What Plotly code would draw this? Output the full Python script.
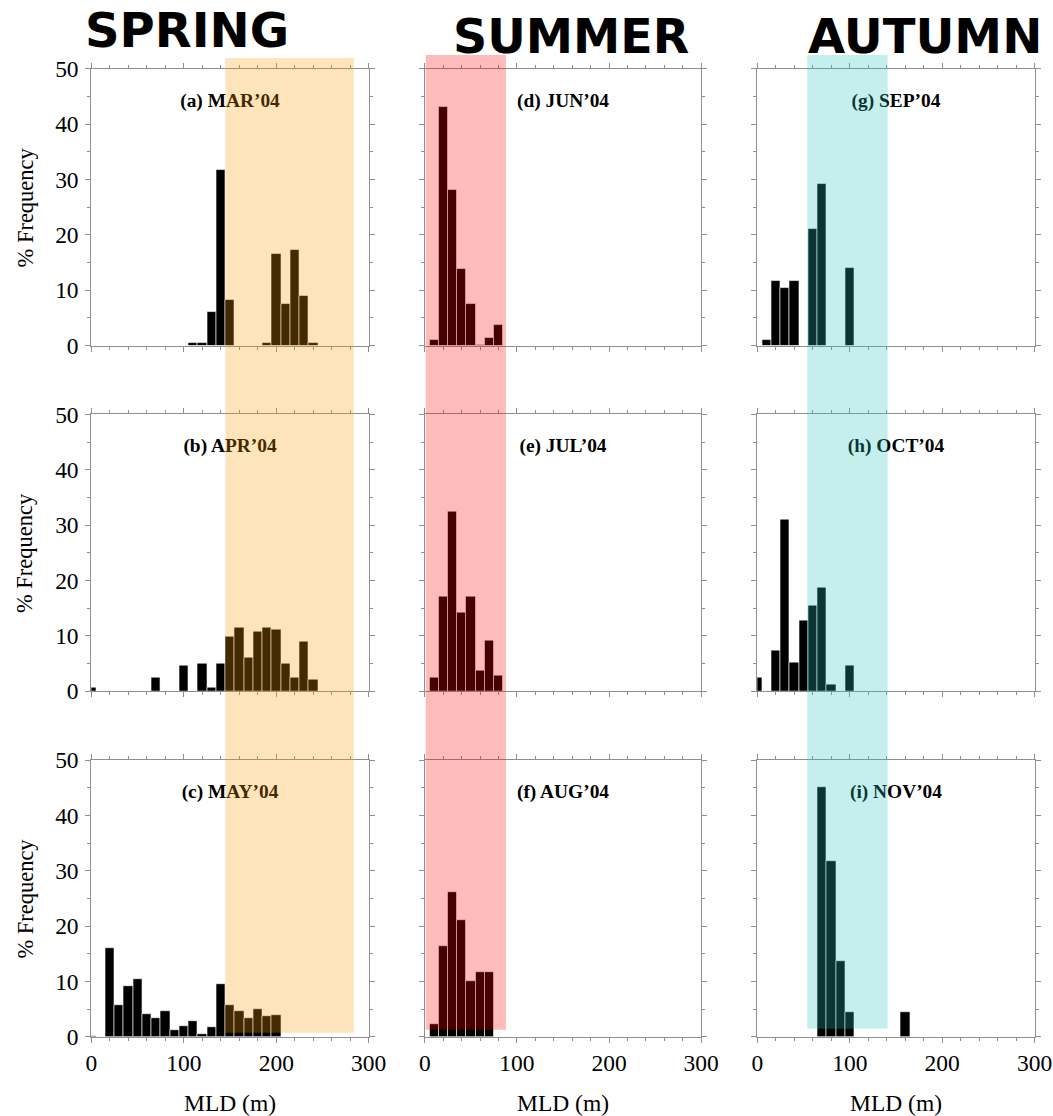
import plotly.graph_objects as go

# ---- data: bin centres (MLD, m) and % frequency per month ----
mar_mld = [110, 120, 130, 140, 150, 190, 200, 210, 220, 230, 240]
mar_freq = [0.5, 0.5, 6.1, 31.8, 8.2, 0.5, 16.5, 7.5, 17.2, 8.9, 0.5]
apr_mld = [0, 70, 100, 120, 130, 140, 150, 160, 170, 180, 190, 200, 210, 220, 230, 240]
apr_freq = [0.7, 2.5, 4.6, 5.0, 0.7, 5.0, 9.8, 11.5, 6.0, 10.7, 11.5, 11.2, 5.0, 2.4, 9.0, 2.1]
may_mld = [0, 20, 30, 40, 50, 60, 70, 80, 90, 100, 110, 120, 130, 140, 150, 160, 170, 180, 190, 200]
may_freq = [0.15, 16.1, 5.7, 9.2, 10.5, 4.1, 3.3, 4.6, 1.2, 2.0, 2.8, 0.4, 1.7, 9.5, 5.7, 4.6, 3.3, 5.0, 3.7, 3.9]
jun_mld = [10, 20, 30, 40, 50, 60, 70, 80]
jun_freq = [1.0, 43.1, 28.2, 13.8, 7.5, 0.1, 1.4, 3.7]
jul_mld = [10, 20, 30, 40, 50, 60, 70, 80]
jul_freq = [2.4, 17.1, 32.4, 14.2, 17.1, 3.8, 9.2, 2.8]
aug_mld = [10, 20, 30, 40, 50, 60, 70]
aug_freq = [2.3, 16.3, 26.1, 21.0, 10.1, 11.7, 11.7]
sep_mld = [10, 20, 30, 40, 60, 70, 100]
sep_freq = [1.1, 11.7, 10.5, 11.7, 21.0, 29.3, 14.0]
oct_mld = [0, 20, 30, 40, 50, 60, 70, 80, 100]
oct_freq = [2.5, 7.3, 31.0, 5.2, 12.7, 15.4, 18.8, 1.2, 4.6]
nov_mld = [70, 80, 90, 100, 160]
nov_freq = [45.2, 31.7, 13.6, 4.5, 4.5]

panel_labels = ["(a) MAR’04", "(b) APR’04", "(c) MAY’04",
                "(d) JUN’04", "(e) JUL’04", "(f) AUG’04",
                "(g) SEP’04", "(h) OCT’04", "(i) NOV’04"]
season_names = ["SPRING", "SUMMER", "AUTUMN"]
season_bands = [(145, 284), (1, 88), (54, 141)]
season_colors = ["rgba(248,155,0,0.27)", "rgba(255,0,0,0.27)", "rgba(40,196,188,0.27)"]

bin_width = 10
label_x = 150
label_y = 44

panels = [
    (mar_mld, mar_freq), (apr_mld, apr_freq), (may_mld, may_freq),
    (jun_mld, jun_freq), (jul_mld, jul_freq), (aug_mld, aug_freq),
    (sep_mld, sep_freq), (oct_mld, oct_freq), (nov_mld, nov_freq),
]

# page geometry: default body margin around the figure, and the capture
# is scaled slightly; positions below are given in target-picture pixels.
OFF = 8
SX, SY = 0.976, 0.982
W = round(1053 / SX) - 2 * OFF
H = round(1116 / SY) - 2 * OFF
FS = 2 / (SX + SY)
KY = 1.0041  # small vertical stretch correction anchored at the bottom axes


def px(v):
    return (v / SX - OFF) / W


def py(v):
    v2 = 1037 - (1037 - v) * KY
    return 1 - (v2 / SY - OFF) / H


col_px = [(93, 370), (426, 702), (758, 1035)]
row_px = [(68, 345), (414, 691), (760, 1037)]

fig = go.Figure()
layout = dict(
    width=W, height=H,
    margin=dict(l=0, r=0, t=0, b=0),
    paper_bgcolor="white", plot_bgcolor="white",
    showlegend=False, hovermode=False,
    font=dict(family="Liberation Serif", color="black"),
    bargap=0,
)

SERIF = "Liberation Serif"
axcol = "#8f8f8f"

for c in range(3):
    for r in range(3):
        k = c * 3 + r
        idx = r * 3 + c + 1
        xname = "xaxis" if idx == 1 else f"xaxis{idx}"
        yname = "yaxis" if idx == 1 else f"yaxis{idx}"
        xid = "x" if idx == 1 else f"x{idx}"
        yid = "y" if idx == 1 else f"y{idx}"
        x0p, x1p = col_px[c]
        y0p, y1p = row_px[r]
        layout[xname] = dict(
            domain=[px(x0p), px(x1p)], anchor=yid,
            range=[0, 300], dtick=100, tick0=0,
            showline=True, linecolor=axcol, linewidth=1, mirror="ticks",
            ticks="outside", ticklen=5, tickcolor=axcol, tickwidth=1,
            minor=dict(dtick=20, ticks="outside", ticklen=3, tickcolor=axcol, tickwidth=1),
            showgrid=False, zeroline=False,
            showticklabels=(r == 2), ticklabelstandoff=0,
            tickfont=dict(family=SERIF, size=23 * FS, color="black"),
            fixedrange=True,
        )
        layout[yname] = dict(
            domain=[py(y1p), py(y0p)], anchor=xid,
            range=[0, 50], dtick=10, tick0=0,
            showline=True, linecolor=axcol, linewidth=1, mirror="ticks",
            ticks="outside", ticklen=5, tickcolor=axcol, tickwidth=1,
            minor=dict(dtick=5, ticks="outside", ticklen=3, tickcolor=axcol, tickwidth=1),
            showgrid=False, zeroline=False,
            showticklabels=(c == 0), ticklabelstandoff=2,
            tickfont=dict(family=SERIF, size=23 * FS, color="black"),
            fixedrange=True,
        )
        xs, ys = panels[k]
        fig.add_trace(go.Bar(
            x=xs, y=ys, width=bin_width, xaxis=xid, yaxis=yid,
            marker=dict(color="black", line=dict(color="white", width=0.6)),
        ))
        fig.add_trace(go.Scatter(
            x=[label_x], y=[label_y], xaxis=xid, yaxis=yid,
            mode="text", text=[f"<b>{panel_labels[k]}</b>"],
            textposition="middle center",
            textfont=dict(family=SERIF, size=19 * FS, color="black"),
        ))

shapes = []
band_y = [(57, 1033), (54, 1030), (54, 1029)]
for c in range(3):
    xid = "x" if c == 0 else f"x{c + 1}"
    b0, b1 = season_bands[c]
    t, btm = band_y[c]
    shapes.append(dict(
        type="rect", xref=xid, yref="paper",
        x0=b0, x1=b1, y0=py(btm), y1=py(t),
        fillcolor=season_colors[c], line=dict(width=0), layer="above",
    ))
layout["shapes"] = shapes

annotations = []
title_pos = [(189, 29.5), (572, 35.3), (925, 35.3)]
title_size = [47, 46.5, 47]
for c in range(3):
    tx, ty = title_pos[c]
    annotations.append(dict(
        text=f"<b>{season_names[c]}</b>", xref="paper", yref="paper",
        x=px(tx), y=py(ty), xanchor="center", yanchor="middle",
        showarrow=False,
        font=dict(family="DejaVu Sans", size=title_size[c] * FS, color="black"),
    ))
for r in range(3):
    y0p, y1p = row_px[r]
    annotations.append(dict(
        text="% Frequency", xref="paper", yref="paper",
        x=px(27), y=py((y0p + y1p) / 2), xanchor="center", yanchor="middle",
        textangle=-90, showarrow=False,
        font=dict(family=SERIF, size=22 * FS, color="black"),
    ))
for c in range(3):
    x0p, x1p = col_px[c]
    annotations.append(dict(
        text="MLD (m)", xref="paper", yref="paper",
        x=px((x0p + x1p) / 2), y=py(1103), xanchor="center", yanchor="middle",
        showarrow=False, font=dict(family=SERIF, size=23 * FS, color="black"),
    ))
layout["annotations"] = annotations

fig.update_layout(**layout)
fig.write_html("out.html")
